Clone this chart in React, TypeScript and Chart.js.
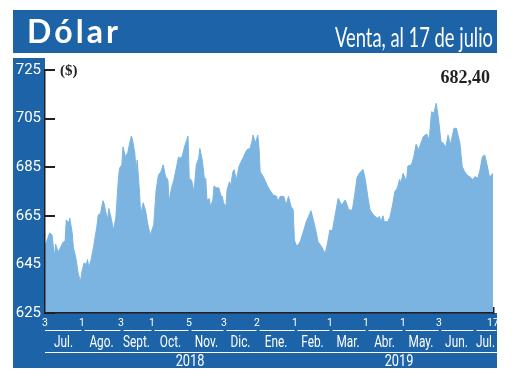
import React, { useEffect, useRef } from "react";
import { Chart, registerables } from "chart.js";

Chart.register(...registerables);

// ---------- texts ----------
const title = "Dólar";
const subtitle = "Venta, al 17 de julio";
const unitLabel = "($)";
const lastValueLabel = "682,40";

// ---------- series (position along the time axis, value) ----------
const positions = [
  0, 4, 6, 8, 9, 11, 13, 15, 17, 18, 20, 21, 23, 24, 26, 28, 30, 31, 33, 35,
  36, 37, 39, 41, 44, 45, 47, 49, 50, 52, 53, 54, 56, 58, 60, 62, 63, 65, 66, 68,
  70, 71, 73, 74, 76, 77, 78, 80, 81, 83, 85, 87, 89, 90, 92, 94, 96, 98, 100, 102,
  104, 105, 107, 109, 111, 113, 114, 116, 118, 121, 122, 124, 126, 128, 130, 131, 133, 135, 136, 137,
  139, 140, 142, 143, 145, 147, 149, 150, 151, 153, 154, 156, 157, 159, 160, 162, 164, 166, 168, 170,
  172, 173, 175, 176, 178, 180, 181, 182, 185, 188, 190, 193, 196, 197, 199, 202, 204, 206, 208, 210,
  211, 213, 216, 219, 221, 223, 225, 227, 229, 231, 234, 237, 239, 241, 243, 245, 248, 251, 254, 257,
  260, 262, 264, 266, 269, 271, 273, 275, 278, 281, 283, 284, 286, 287, 290, 292, 294, 296, 298, 300,
  301, 303, 305, 306, 307, 310, 312, 314, 316, 318, 320, 323, 325, 327, 329, 331, 333, 335, 337, 339,
  341, 343, 344, 346, 348, 351, 353, 355, 357, 360, 362, 364, 366, 368, 370, 372, 374, 376, 377, 379,
];
const values = [
  652.5, 658, 657, 648, 653.4, 650, 651.7, 654, 654.5, 663.3, 662, 664, 658, 652, 648, 641.5, 637.9, 641.5, 645.6, 645,
  647, 643.6, 647, 652, 661, 665.3, 666, 671.2, 670, 665.3, 664, 668, 664, 659, 664.7, 679.7, 684.5, 686, 693.4, 689.3,
  691, 693.4, 697.8, 696.5, 690.7, 683.2, 688, 674.3, 665.3, 670.4, 667.3, 661.5, 657.1, 658.5, 661.3, 675.6, 681.8, 683, 686, 681.2,
  679.7, 670.8, 676.5, 679.7, 684.5, 689.3, 688.6, 689.3, 693.4, 697.8, 680.4, 679.7, 675, 686, 688.6, 692.7, 688, 679.7, 680.4, 671.5,
  672, 668.7, 671.5, 677.3, 676.5, 676.5, 673, 673, 670.4, 668.7, 675.6, 679, 677.3, 683.2, 684, 679.7, 685.2, 687.3, 689.3, 691.5,
  692.7, 692, 695.5, 698.2, 695, 698.2, 693.4, 683.2, 680.8, 677.5, 675.7, 673.6, 673, 670.8, 673, 673, 669.4, 673, 669, 667.4,
  655, 652.3, 654.5, 659.2, 662.6, 664.7, 667.1, 663.3, 659.2, 654.3, 652.3, 649.5, 653.7, 659.2, 658.7, 664, 672.2, 669.4, 671.5, 667.4,
  667.4, 673.6, 680.8, 682.5, 684.1, 679.9, 673.1, 667.4, 665.3, 664, 664.7, 662.6, 665, 662.6, 662.6, 664.7, 669.4, 675, 676.4, 680,
  678.4, 682.5, 679.9, 680.5, 685.5, 686, 689.3, 694.5, 692.1, 694.9, 697.6, 698.7, 696.2, 707.8, 707.3, 711.3, 704.4, 695.5, 694.9, 693.2,
  698.2, 694.2, 696.6, 701, 701, 694.9, 685.2, 683.2, 681.8, 680.8, 679.9, 681.2, 680.3, 683.8, 689.3, 690, 685.9, 681, 681.5, 682.4,
];

// ---------- axes ----------
const yMin = 625;
const yMax = 725;
const yStep = 20;
const yTicks = [625, 645, 665, 685, 705, 725];
const xMin = 0;
const xMax = 379;

const dayTickPositions = [0, 31.3, 64.3, 90.5, 121.8, 151.4, 179.4, 211.5, 241.1, 271.6, 302.9, 333.3, 379];
const dayTickLabels = ["3", "1", "3", "1", "5", "3", "2", "1", "1", "1", "1", "3", "17"];

const monthBoundaries = [0, 31.3, 64.3, 90.5, 121.8, 151.4, 179.4, 211.5, 241.1, 271.6, 302.9, 333.3, 362.9, 382.4];
const monthLabels = ["Jul.", "Ago.", "Sept.", "Oct.", "Nov.", "Dic.", "Ene.", "Feb.", "Mar.", "Abr.", "May.", "Jun.", "Jul."];

const yearLabels = ["2018", "2019"];
const yearPositions = [122.7, 299.5];

// ---------- styles ----------
const BLUE = "#1d63a8";
const FILL = "#7bb4e1";
const INK = "#231f20";
const SANS = "Roboto, 'Liberation Sans', sans-serif";
const SERIF = "'Liberation Serif', 'DejaVu Serif', serif";
const HEAD = "Lato, 'Open Sans', sans-serif";

function drawScaled(ctx: CanvasRenderingContext2D, text: string, x: number, y: number, font: string, color: string, align: CanvasTextAlign, sx: number) {
  ctx.save();
  ctx.font = font;
  ctx.fillStyle = color;
  ctx.textAlign = align;
  ctx.textBaseline = "middle";
  ctx.translate(x, y);
  ctx.scale(sx, 1);
  ctx.fillText(text, 0, 0);
  ctx.restore();
}

function drawFitRight(ctx: CanvasRenderingContext2D, text: string, xRight: number, yBase: number, width: number, font: string, color: string) {
  ctx.save();
  ctx.font = font;
  ctx.fillStyle = color;
  ctx.textAlign = "right";
  ctx.textBaseline = "alphabetic";
  const w = ctx.measureText(text).width;
  ctx.translate(xRight, yBase);
  ctx.scale(width / w, 1);
  ctx.fillText(text, 0, 0);
  ctx.restore();
}

const decorPlugin = {
  id: "decor",
  beforeDraw(chart: any) {
    const { ctx, chartArea: ca } = chart;
    ctx.save();
    ctx.fillStyle = "#ffffff";
    ctx.fillRect(0, 0, chart.width, chart.height);
    ctx.fillStyle = BLUE;
    // header band
    ctx.fillRect(13, 10, 484, 43);
    // left strip
    ctx.fillRect(13, 58, ca.left - 13, ca.bottom - 58);
    // bottom band
    ctx.fillRect(13, ca.bottom, 497 - 13, 368 - ca.bottom);
    ctx.restore();
  },
  beforeDatasetsDraw(chart: any) {
    const { ctx, chartArea: ca, scales } = chart;
    ctx.save();
    ctx.strokeStyle = INK;
    ctx.lineWidth = 2;
    yTicks.forEach((v) => {
      const y = Math.round(scales.y.getPixelForValue(v));
      ctx.beginPath();
      ctx.moveTo(ca.left, y);
      ctx.lineTo(ca.left + 10, y);
      ctx.stroke();
    });
    ctx.restore();
  },
  afterDraw(chart: any) {
    const { ctx, chartArea: ca, scales } = chart;
    const xs = scales.x;

    // title, letter-spaced
    ctx.save();
    ctx.fillStyle = "#ffffff";
    ctx.font = `bold 32px ${HEAD}`;
    ctx.textBaseline = "alphabetic";
    ctx.textAlign = "left";
    const chars = Array.from(title);
    const widths = chars.map((c) => ctx.measureText(c).width);
    const total = widths.reduce((a, b) => a + b, 0);
    const spacing = (91 - total) / (chars.length - 1);
    let cx = 27;
    chars.forEach((c, i) => {
      ctx.fillText(c, cx, 43);
      cx += widths[i] + spacing;
    });
    ctx.restore();

    drawFitRight(ctx, subtitle, 493, 47, 158, `26px ${HEAD}`, "#ffffff");

    // unit label and last value
    drawScaled(ctx, unitLabel, ca.left + 15, ca.top + 1, `bold 15px ${SERIF}`, INK, "left", 1);
    ctx.save();
    ctx.font = `bold 18px ${SERIF}`;
    ctx.fillStyle = INK;
    ctx.textAlign = "right";
    ctx.textBaseline = "alphabetic";
    ctx.fillText(lastValueLabel, 490, ca.top + 13);
    ctx.restore();

    // right end tick on x axis
    ctx.save();
    ctx.strokeStyle = INK;
    ctx.lineWidth = 1.5;
    ctx.beginPath();
    ctx.moveTo(ca.right + 0.75, ca.bottom - 6);
    ctx.lineTo(ca.right + 0.75, ca.bottom + 1);
    ctx.stroke();
    ctx.restore();

    // month segment lines
    ctx.save();
    ctx.strokeStyle = "#ffffff";
    ctx.lineWidth = 1;
    const segY = ca.bottom + 17.5;
    for (let i = 0; i < monthBoundaries.length - 1; i++) {
      const a = xs.getPixelForValue(monthBoundaries[i]) + (i === 0 ? 0 : 2.5);
      const b = xs.getPixelForValue(monthBoundaries[i + 1]) - 0.5;
      ctx.beginPath();
      ctx.moveTo(a, segY);
      ctx.lineTo(b, segY);
      ctx.stroke();
    }
    // year line
    const yrY = ca.bottom + 39.5;
    ctx.beginPath();
    ctx.moveTo(xs.getPixelForValue(monthBoundaries[0]), yrY);
    ctx.lineTo(xs.getPixelForValue(monthBoundaries[monthBoundaries.length - 1]), yrY);
    ctx.stroke();
    ctx.restore();

    // month labels
    for (let i = 0; i < monthLabels.length; i++) {
      const mid = (xs.getPixelForValue(monthBoundaries[i]) + xs.getPixelForValue(monthBoundaries[i + 1])) / 2;
      drawScaled(ctx, monthLabels[i], mid, ca.bottom + 30, `16px ${SANS}`, "#ffffff", "center", 0.74);
    }
    // year labels
    yearLabels.forEach((t, i) => {
      drawScaled(ctx, t, xs.getPixelForValue(yearPositions[i]), ca.bottom + 49, `16px ${SANS}`, "#ffffff", "center", 0.8);
    });
  },
};

export default function App() {
  const ref = useRef<HTMLCanvasElement>(null);
  useEffect(() => {
    if (!ref.current) return;
    const chart = new Chart(ref.current, {
      type: "line",
      data: {
        datasets: [
          {
            data: positions.map((p, i) => ({ x: p, y: values[i] })),
            fill: "start",
            backgroundColor: FILL,
            borderColor: FILL,
            borderWidth: 1,
            pointRadius: 0,
            tension: 0,
          },
        ],
      },
      options: {
        animation: false,
        responsive: false,
        maintainAspectRatio: false,
        layout: { padding: { left: 13, right: 27, top: 70, bottom: 22 } },
        plugins: { legend: { display: false }, tooltip: { enabled: false }, title: { display: false } },
        scales: {
          x: {
            type: "linear",
            min: xMin,
            max: xMax,
            afterBuildTicks: (scale: any) => {
              scale.ticks = dayTickPositions.map((v) => ({ value: v }));
            },
            afterFit: (scale: any) => {
              scale.height = 55;
            },
            ticks: {
              autoSkip: false,
              maxRotation: 0,
              minRotation: 0,
              color: "#ffffff",
              font: { family: SANS, size: 10.5 },
              padding: 4,
              callback: (_v: any, i: number) => dayTickLabels[i],
            },
            grid: { display: false, drawTicks: false },
            border: { display: true, color: INK, width: 1.5, z: 1 },
          },
          y: {
            min: yMin,
            max: yMax,
            afterBuildTicks: (scale: any) => {
              scale.ticks = yTicks.map((v) => ({ value: v }));
            },
            afterFit: (scale: any) => {
              scale.width = 32;
            },
            ticks: {
              stepSize: yStep,
              color: "#ffffff",
              font: { family: SANS, size: 15 },
              padding: 4,
            },
            grid: { display: false, drawTicks: false },
            border: { display: true, color: INK, width: 1.5, z: 1 },
          },
        },
      },
      plugins: [decorPlugin],
    } as any);
    return () => chart.destroy();
  }, []);
  return (
    <div style={{ position: "absolute", left: 0, top: 0, width: 520, height: 390, background: "#fff" }}>
      <canvas ref={ref} width={520} height={390} style={{ display: "block", width: 520, height: 390 }} />
    </div>
  );
}
